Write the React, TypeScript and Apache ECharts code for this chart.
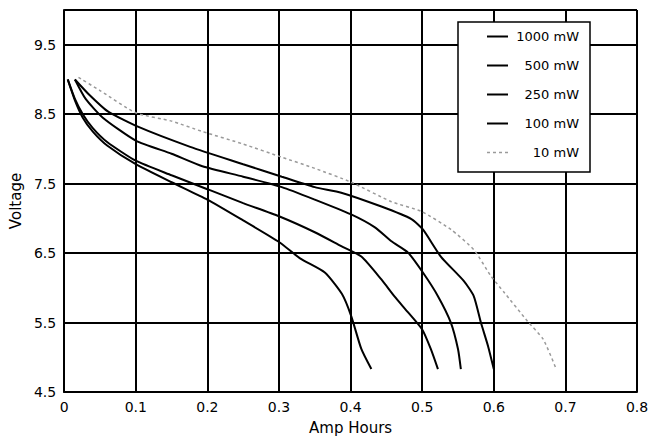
import React, { useEffect, useRef } from "react";
import * as echarts from "echarts";

const seriesNames = ["1000 mW", "500 mW", "250 mW", "100 mW", "10 mW"];

const ah1000 = [0.005, 0.015, 0.026, 0.04, 0.06, 0.1, 0.15, 0.2, 0.25, 0.3, 0.33, 0.364, 0.388, 0.401, 0.415, 0.429];
const v1000 = [9.0, 8.7, 8.45, 8.25, 8.05, 7.78, 7.52, 7.27, 6.97, 6.66, 6.42, 6.22, 5.91, 5.59, 5.12, 4.83];

const ah500 = [0.005, 0.015, 0.026, 0.04, 0.06, 0.1, 0.15, 0.2, 0.25, 0.3, 0.35, 0.387, 0.415, 0.443, 0.461, 0.48, 0.5, 0.512, 0.522];
const v500 = [9.0, 8.72, 8.5, 8.3, 8.1, 7.83, 7.62, 7.42, 7.22, 7.03, 6.8, 6.6, 6.45, 6.12, 5.88, 5.65, 5.4, 5.12, 4.83];

const ah250 = [0.015, 0.03, 0.054, 0.1, 0.15, 0.193, 0.25, 0.304, 0.35, 0.4, 0.434, 0.457, 0.48, 0.501, 0.522, 0.54, 0.55, 0.554];
const v250 = [9.0, 8.72, 8.45, 8.12, 7.93, 7.75, 7.6, 7.45, 7.27, 7.06, 6.87, 6.67, 6.51, 6.22, 5.88, 5.5, 5.12, 4.83];

const ah100 = [0.015, 0.035, 0.061, 0.103, 0.176, 0.25, 0.304, 0.35, 0.387, 0.443, 0.485, 0.501, 0.526, 0.558, 0.572, 0.582, 0.592, 0.6];
const v100 = [9.0, 8.78, 8.54, 8.32, 8.03, 7.78, 7.6, 7.45, 7.37, 7.17, 6.99, 6.84, 6.45, 6.1, 5.88, 5.5, 5.16, 4.83];

const ah10 = [0.02, 0.05, 0.1, 0.15, 0.193, 0.25, 0.304, 0.35, 0.401, 0.457, 0.499, 0.54, 0.572, 0.596, 0.614, 0.647, 0.669, 0.686];
const v10 = [9.03, 8.84, 8.52, 8.4, 8.25, 8.07, 7.88, 7.72, 7.52, 7.24, 7.1, 6.84, 6.55, 6.17, 5.94, 5.52, 5.26, 4.86];

const xTicks = [0, 0.1, 0.2, 0.3, 0.4, 0.5, 0.6, 0.7, 0.8];
const yTickLabels = ["4.5", "5.5", "6.5", "7.5", "8.5", "9.5"];

const zip = (xs: number[], ys: number[]) => xs.map((x, i) => [x, ys[i]]);

const FONT = "DejaVu Sans";
const SOLID_ICON = "path://M0,0L21,0L21,2L0,2Z";
const DOTTED_ICON = "path://M0,0h3v1.5h-3zM6,0h3v1.5h-3zM12,0h3v1.5h-3zM18,0h3v1.5h-3z";

export default function App() {
  const ref = useRef<HTMLDivElement>(null);
  useEffect(() => {
    document.body.style.margin = "0";
    const chart = echarts.init(ref.current!, null, { renderer: "svg" });
    const data = [zip(ah1000, v1000), zip(ah500, v500), zip(ah250, v250), zip(ah100, v100), zip(ah10, v10)];
    const solid = { color: "#000", width: 2, type: "solid" as const };
    const dotted = { color: "#9a9a9a", width: 1.5, type: [3, 3] as any };
    chart.setOption({
      animation: false,
      backgroundColor: "#fff",
      grid: { left: 61, right: 16, top: 10, bottom: 47 },
      legend: {
        orient: "vertical",
        left: 458,
        top: 22,
        padding: [8, 11, 13, 29],
        itemGap: 16,
        itemWidth: 21,
        itemHeight: 14,
        backgroundColor: "#fff",
        borderColor: "#000",
        borderWidth: 1.5,
        borderRadius: 0,
        formatter: "{a|{name}}",
        textStyle: {
          fontFamily: FONT,
          fontSize: 13,
          color: "#000",
          rich: { a: { width: 66, align: "right", fontFamily: FONT, fontSize: 13, color: "#000" } },
        },
        data: seriesNames.map((name, i) => ({ name, icon: i === 4 ? DOTTED_ICON : SOLID_ICON })),
      },
      xAxis: {
        type: "value",
        min: 0,
        max: 0.8,
        interval: 0.1,
        name: "Amp Hours",
        nameLocation: "middle",
        nameGap: 28,
        nameTextStyle: { fontFamily: FONT, fontSize: 15, color: "#000" },
        axisLine: { show: true, lineStyle: { color: "#000", width: 2 } },
        axisTick: { show: false },
        splitLine: { show: true, lineStyle: { color: "#000", width: 2 } },
        axisLabel: {
          margin: 8,
          fontFamily: FONT,
          fontSize: 14,
          color: "#000",
          formatter: (v: number) => {
            const i = xTicks.findIndex((t) => Math.abs(t - v) < 1e-6);
            return i >= 0 ? String(xTicks[i]) : "";
          },
        },
      },
      yAxis: {
        type: "value",
        min: 4.5,
        max: 10,
        interval: 1,
        name: "Voltage",
        nameLocation: "middle",
        nameGap: 38,
        nameTextStyle: { fontFamily: FONT, fontSize: 15, color: "#000" },
        axisLine: { show: true, lineStyle: { color: "#000", width: 2 } },
        axisTick: { show: false },
        splitLine: { show: true, lineStyle: { color: "#000", width: 2 } },
        axisLabel: {
          margin: 8,
          fontFamily: FONT,
          fontSize: 14,
          color: "#000",
          formatter: (v: number) => {
            const s = v.toFixed(1);
            return yTickLabels.includes(s) ? s : "";
          },
        },
      },
      series: seriesNames.map((name, i) => ({
        name,
        type: "line",
        data: data[i],
        symbol: "none",
        smooth: 0.2,
        color: i === 4 ? "#9a9a9a" : "#000",
        lineStyle: i === 4 ? dotted : solid,
        z: 3,
      })),
    });
    return () => chart.dispose();
  }, []);
  return <div ref={ref} style={{ width: 653, height: 440 }} />;
}
